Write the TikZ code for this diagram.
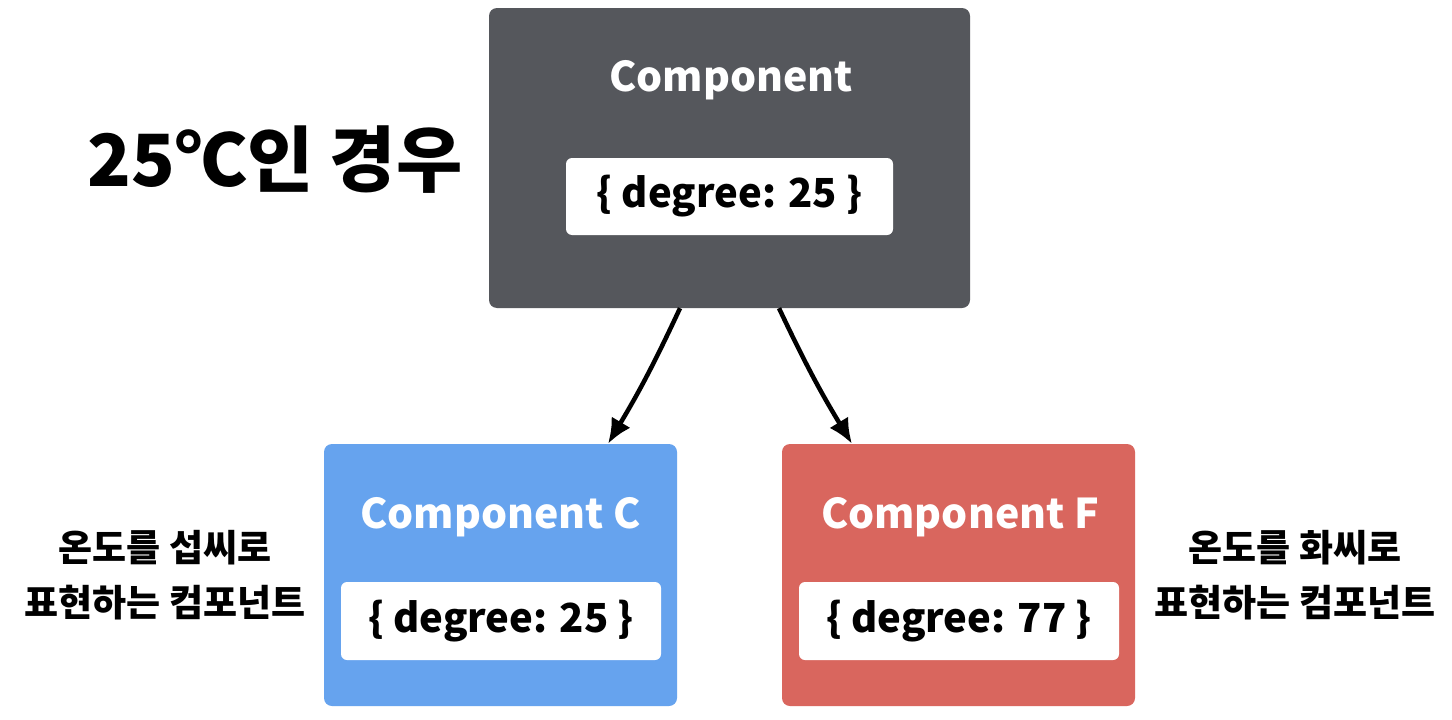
\documentclass[tikz,border=0pt]{standalone}
\usepackage{fontspec}
\setmainfont{Noto Sans CJK KR}
\usetikzlibrary{arrows.meta,positioning,calc}
\definecolor{darkbox}{HTML}{55575C}
\definecolor{blue}{HTML}{66A3EE}
\definecolor{red}{HTML}{D9665E}

\begin{document}
\begin{tikzpicture}[x=1pt,y=-1pt,>={Latex[length=25pt,width=22pt]},
  box/.style={rounded corners=8pt,minimum width=353pt,minimum height=262pt,inner sep=0pt},
  statebox/.style={fill=white,rounded corners=6pt,minimum width=320pt,minimum height=78pt,inner sep=0pt,
    font=\fontsize{40}{42}\selectfont\bfseries},
  title/.style={white,font=\fontsize{41}{44}\selectfont\bfseries},
  note/.style={align=center,font=\fontsize{37}{55}\selectfont\bfseries}]
\useasboundingbox (0,0) rectangle (1452,720);
\fill[white] (0,0) rectangle (1452,720);
\node[box,fill=darkbox,minimum width=481pt,minimum height=300pt] (top) at (729.5,158){};
\node[title] (toptitle) at (731,80){Component};
\node[statebox,minimum width=327pt,minimum height=77pt] (topstate) at (729.5,196.5){\{ degree: 25 \}};
\node[box,fill=blue] (C) at (500.5,575){};
\node[title] (Ctitle) at (500.5,517){Component C};
\node[statebox] (Cstate) at (501,621){\{ degree: 25 \}};
\node[box,fill=red] (F) at (958.5,575){};
\node[title] (Ftitle) at (960,517){Component F};
\node[statebox] (Fstate) at (959,621){\{ degree: 77 \}};
\node[font=\fontsize{72}{76}\selectfont\bfseries] (case) at (275,160){25℃인 경우};
\node[note] (Cnote) at (165,575){온도를 섭씨로\\표현하는 컴포넌트};
\node[note] (Fnote) at (1295,575){온도를 화씨로\\표현하는 컴포넌트};
\draw[->,line width=4.5pt] ([xshift=-49.5pt]top.south) to[bend left=3] ([xshift=107.5pt]C.north);
\draw[->,line width=4.5pt] ([xshift=49.5pt]top.south) to[bend right=3] ([xshift=-106.5pt]F.north);
\end{tikzpicture}
\end{document}
